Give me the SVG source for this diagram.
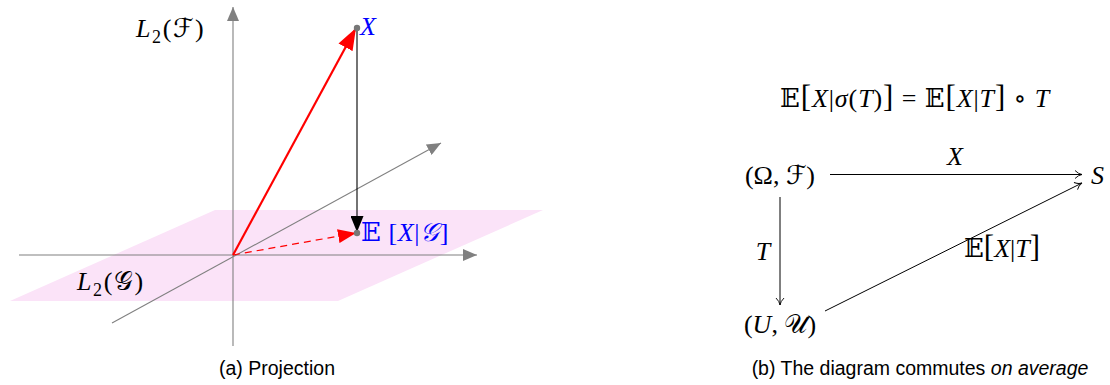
<svg xmlns="http://www.w3.org/2000/svg" width="1110" height="385" viewBox="0 0 1110 385">
<style>
.m{font-family:"Liberation Serif","DejaVu Serif","DejaVu Sans","Noto Sans",serif;font-size:26px;fill:#000}
.i{font-style:italic}
.b{fill:#0000ff}
.s{font-size:18px}
.br{font-size:31px}
.w{letter-spacing:1.6px}
.cap{font-family:"Liberation Sans",Arial,sans-serif;font-size:19.5px;fill:#000}
.ax{stroke:#808080;stroke-width:1.1;fill:none}
.cd{stroke:#000;stroke-width:1;fill:none}
</style>
<defs>
<marker id="ga" viewBox="0 0 14 12" refX="14" refY="6" markerWidth="14" markerHeight="12" markerUnits="userSpaceOnUse" orient="auto"><path d="M0,0 L14,6 L0,12 Z" fill="#808080"/></marker>
<marker id="ra" viewBox="0 0 22 16" refX="22" refY="8" markerWidth="22" markerHeight="16" markerUnits="userSpaceOnUse" orient="auto"><path d="M0,0 L22,8 L0,16 Z" fill="#ff0000"/></marker>
<marker id="rd" viewBox="0 0 18 14" refX="18" refY="7" markerWidth="18" markerHeight="14" markerUnits="userSpaceOnUse" orient="auto"><path d="M0,0 L18,7 L0,14 Z" fill="#ff0000"/></marker>
<marker id="ka" viewBox="0 0 16 13" refX="16" refY="6.5" markerWidth="16" markerHeight="13" markerUnits="userSpaceOnUse" orient="auto"><path d="M0,0 L16,6.5 L0,13 Z" fill="#000"/></marker>
<marker id="to" viewBox="0 0 8 10" refX="7.5" refY="5" markerWidth="8" markerHeight="10" markerUnits="userSpaceOnUse" orient="auto"><path d="M0.5,1 Q4,4.5 7.5,5 Q4,5.5 0.5,9" fill="none" stroke="#000" stroke-width="0.9"/></marker>
</defs>

<g id="plane"><polygon points="10,301 215,210 543,210 338,301" fill="#fbe3f8"/></g>

<g id="axes">
<line class="ax" x1="19" y1="255" x2="477" y2="255" marker-end="url(#ga)"/>
<line class="ax" x1="233" y1="346" x2="233" y2="7" marker-end="url(#ga)"/>
<line class="ax" x1="112" y1="323" x2="441" y2="143" marker-end="url(#ga)"/>
</g>

<g id="vectors">
<line x1="233" y1="255" x2="356" y2="28" stroke="#ff0000" stroke-width="2.2" marker-end="url(#ra)"/>
<line x1="357" y1="28" x2="357" y2="232" stroke="#000" stroke-width="1.1" marker-end="url(#ka)"/>
<line x1="233" y1="255" x2="356" y2="233" stroke="#ff0000" stroke-width="1.2" stroke-dasharray="7,5" marker-end="url(#rd)"/>
</g>

<g id="point-X"><circle cx="357" cy="28" r="3.2" fill="#777"/><text class="m i b" x="360" y="35">X</text></g>
<g id="point-E"><circle cx="357" cy="233" r="3.2" fill="#777"/><text class="m b" x="361" y="241" letter-spacing="0.6">𝔼 [<tspan class="i">X</tspan>|<tspan class="i">𝒢</tspan>]</text></g>
<g id="label-L2F"><text class="m w" x="136" y="37"><tspan class="i">L</tspan><tspan class="s" dy="6">2</tspan><tspan dy="-6">(ℱ)</tspan></text></g>
<g id="label-L2G"><text class="m w" x="77" y="290"><tspan class="i">L</tspan><tspan class="s" dy="6">2</tspan><tspan dy="-6">(𝒢)</tspan></text></g>

<text class="cap" x="277" y="375" text-anchor="middle">(a) Projection</text>

<g id="equation"><text class="m" x="915" y="107" text-anchor="middle" letter-spacing="0.9">𝔼<tspan class="br">[</tspan><tspan class="i">X</tspan>|<tspan class="i">σ</tspan>(<tspan class="i">T</tspan>)<tspan class="br">]</tspan> = 𝔼<tspan class="br">[</tspan><tspan class="i">X</tspan>|<tspan class="i">T</tspan><tspan class="br">]</tspan> ∘ <tspan class="i">T</tspan></text></g>

<g id="node-omega"><text class="m" x="780" y="184" text-anchor="middle">(Ω, ℱ)</text></g>
<g id="node-S"><text class="m i" x="1091" y="184">S</text></g>
<g id="node-U"><text class="m" x="780" y="333" text-anchor="middle">(<tspan class="i">U</tspan>, 𝒰)</text></g>

<g id="connectors">
<line class="cd" x1="830" y1="174.5" x2="1082" y2="174.5" marker-end="url(#to)"/>
<line class="cd" x1="780" y1="197" x2="780" y2="305" marker-end="url(#to)"/>
<line class="cd" x1="825" y1="311" x2="1082" y2="183" marker-end="url(#to)"/>
<text class="m i" x="955" y="165" text-anchor="middle">X</text>
<text class="m i" x="763" y="260" text-anchor="middle">T</text>
<text class="m" x="1002" y="257" text-anchor="middle">𝔼<tspan class="br">[</tspan><tspan class="i">X</tspan>|<tspan class="i">T</tspan><tspan class="br">]</tspan></text>
</g>

<text class="cap" x="920" y="375" text-anchor="middle">(b) The diagram commutes <tspan font-style="italic">on average</tspan></text>
</svg>
